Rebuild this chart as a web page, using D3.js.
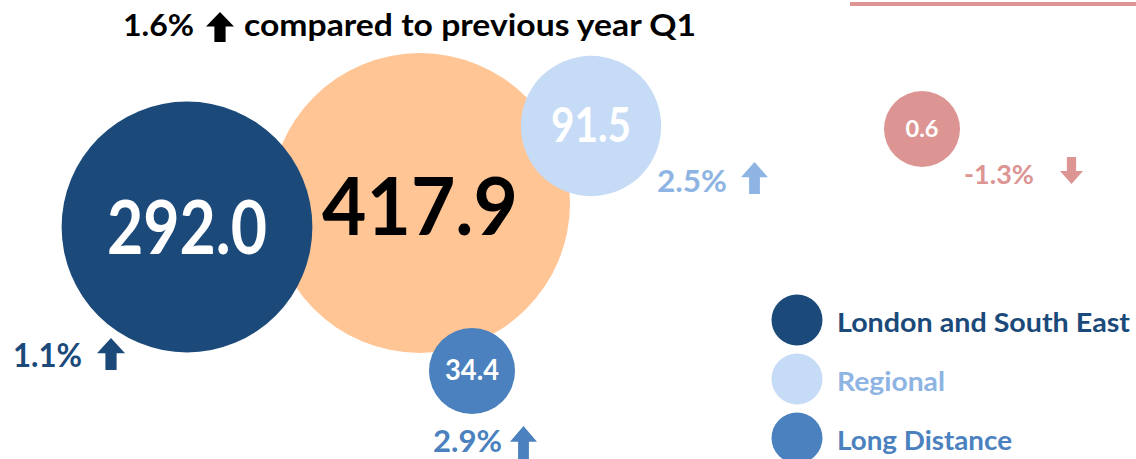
<!DOCTYPE html>
<html>
<head>
<meta charset="utf-8">
<script src="https://cdn.jsdelivr.net/npm/d3@7"></script>
<style>
  body { margin: 0; background: #fff; }
  svg text { font-family: Lato, "Open Sans", sans-serif; font-weight: bold; }
</style>
</head>
<body>
<div id="chart"></div>
<script>
// data
var categories = ["London and South East", "Total", "Regional", "Long Distance", "Other"];
var values = [292.0, 417.9, 91.5, 34.4, 0.6];
var changes = ["1.1%", null, "2.5%", "2.9%", "-1.3%"];
var directions = ["up", null, "up", "up", "down"];
var legendNames = ["London and South East", "Regional", "Long Distance"];
var titleChange = "1.6%";
var titleText = "compared to previous year Q1";

var colours = {
  "London and South East": "#1b4a7a",
  "Total": "#ffc594",
  "Regional": "#c6dbf6",
  "Long Distance": "#4a81be",
  "Other": "#dc9593"
};
var labelColours = {
  "London and South East": "#1b4a7a",
  "Regional": "#8db4e3",
  "Long Distance": "#4a81be",
  "Other": "#dc9593"
};

// placement of each bubble on the page
var layout = [
  {cx: 187, cy: 227, fs: 74, tl: 160, by: 254, ch: {x: 13, y: 367, fs: 32, tl: 69, ax: 97, ay: 338, aw: 28, ah: 32}},
  {cx: 420, cy: 203, fs: 80, tl: 196, by: 235, ch: null},
  {cx: 591, cy: 126, fs: 47, tl: 80, by: 142, ch: {x: 657, y: 192, fs: 31, tl: 70, ax: 741, ay: 162, aw: 27, ah: 32}},
  {cx: 472, cy: 371, fs: 29, tl: 54, by: 380, ch: {x: 433, y: 452, fs: 31, tl: 69, ax: 510, ay: 426, aw: 27, ah: 33}},
  {cx: 922, cy: 129, fs: 23, tl: 33, by: 137, ch: {x: 964, y: 184, fs: 26, tl: 70, ax: 1060, ay: 157, aw: 23, ah: 27}}
];

var width = 1136, height = 459;

var svg = d3.select("#chart").append("svg")
  .attr("width", width).attr("height", height);

var rScale = d3.scaleSqrt().domain([0, d3.max(values)]).range([0, 150]);
var minR = 38;

// block arrow pointing up or down
function arrowPath(x, y, w, h, dir) {
  var headH = h * 0.48, shaft = w * 0.4;
  var mid = x + w / 2;
  var pts;
  if (dir === "up") {
    pts = [[mid, y], [x + w, y + headH], [mid + shaft / 2, y + headH], [mid + shaft / 2, y + h],
      [mid - shaft / 2, y + h], [mid - shaft / 2, y + headH], [x, y + headH]];
  } else {
    pts = [[mid, y + h], [x + w, y + h - headH], [mid + shaft / 2, y + h - headH], [mid + shaft / 2, y],
      [mid - shaft / 2, y], [mid - shaft / 2, y + h - headH], [x, y + h - headH]];
  }
  return d3.line()(pts) + "Z";
}

// red rule top right
svg.append("line")
  .attr("x1", 850).attr("x2", width)
  .attr("y1", 4).attr("y2", 4)
  .attr("stroke", "#dc9593").attr("stroke-width", 4);

// title
svg.append("text").attr("x", 123).attr("y", 36)
  .attr("font-size", 30).attr("fill", "#000")
  .attr("textLength", 71).attr("lengthAdjust", "spacingAndGlyphs")
  .text(titleChange);
svg.append("path").attr("d", arrowPath(206, 12, 28, 30, "up")).attr("fill", "#000");
svg.append("text").attr("x", 244).attr("y", 36)
  .attr("font-size", 30).attr("fill", "#000")
  .attr("textLength", 452).attr("lengthAdjust", "spacingAndGlyphs")
  .text(titleText);

var data = values.map(function(v, i) {
  return {name: categories[i], value: v, change: changes[i], dir: directions[i], pos: layout[i]};
});

// bubbles (total drawn first so the others sit on top)
var order = [1, 0, 2, 3, 4];
var bubbles = svg.append("g").selectAll("g").data(order.map(function(i) { return data[i]; }))
  .enter().append("g");

bubbles.append("circle")
  .attr("cx", function(d) { return d.pos.cx; })
  .attr("cy", function(d) { return d.pos.cy; })
  .attr("r", function(d) { return Math.max(rScale(d.value), minR); })
  .attr("fill", function(d) { return colours[d.name]; });

bubbles.append("text")
  .attr("x", function(d) { return d.pos.cx; })
  .attr("y", function(d) { return d.pos.by; })
  .attr("text-anchor", "middle")
  .attr("font-size", function(d) { return d.pos.fs; })
  .attr("textLength", function(d) { return d.pos.tl; })
  .attr("lengthAdjust", "spacingAndGlyphs")
  .attr("fill", function(d) { return d.name === "Total" ? "#000" : "#fff"; })
  .text(function(d) { return d3.format(".1f")(d.value); });

// change labels with arrows
var changeG = svg.append("g").selectAll("g").data(data.filter(function(d) { return d.change; }))
  .enter().append("g");

changeG.append("text")
  .attr("x", function(d) { return d.pos.ch.x; })
  .attr("y", function(d) { return d.pos.ch.y; })
  .attr("font-size", function(d) { return d.pos.ch.fs; })
  .attr("textLength", function(d) { return d.pos.ch.tl; })
  .attr("lengthAdjust", "spacingAndGlyphs")
  .attr("fill", function(d) { return labelColours[d.name]; })
  .text(function(d) { return d.change; });

changeG.append("path")
  .attr("d", function(d) { var c = d.pos.ch; return arrowPath(c.ax, c.ay, c.aw, c.ah, d.dir); })
  .attr("fill", function(d) { return labelColours[d.name]; });

// legend
var legendY = d3.scalePoint().domain(legendNames).range([320, 438]);
var legend = svg.append("g").selectAll("g").data(legendNames).enter().append("g");
legend.append("circle")
  .attr("cx", 797)
  .attr("cy", function(d) { return legendY(d); })
  .attr("r", 25.5)
  .attr("fill", function(d) { return colours[d]; });
var legendLen = {"London and South East": 293, "Regional": 108, "Long Distance": 175};
legend.append("text")
  .attr("x", 837)
  .attr("y", function(d) { return legendY(d) + 12; })
  .attr("font-size", 26)
  .attr("textLength", function(d) { return legendLen[d]; })
  .attr("lengthAdjust", "spacingAndGlyphs")
  .attr("fill", function(d) { return labelColours[d]; })
  .text(function(d) { return d; });
</script>
</body>
</html>
